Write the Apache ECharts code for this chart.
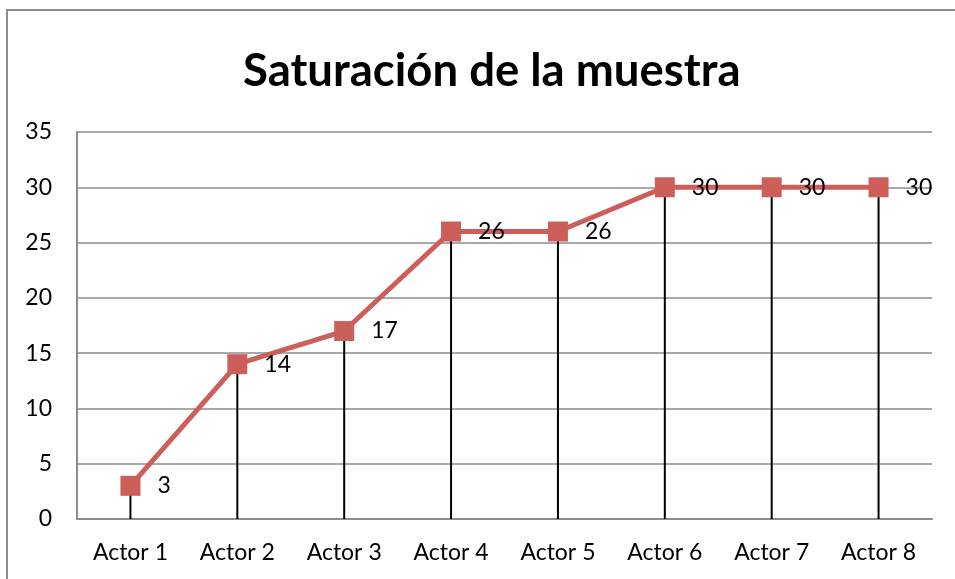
<!DOCTYPE html>
<html>
<head>
<meta charset="utf-8">
<title>Saturación de la muestra</title>
<script src="https://cdn.jsdelivr.net/npm/echarts@6/dist/echarts.min.js"></script>
<style>
  html, body { margin: 0; padding: 0; background: #fff; }
  #chart { width: 955px; height: 579px; }
</style>
</head>
<body>
<div id="chart"></div>
<script>
// data
const categories = ['Actor 1', 'Actor 2', 'Actor 3', 'Actor 4', 'Actor 5', 'Actor 6', 'Actor 7', 'Actor 8'];
const values = [3, 14, 17, 26, 26, 30, 30, 30];
const yTicks = { min: 0, max: 35, interval: 5 };

const font = 'Lato, "Open Sans", sans-serif';
const chart = echarts.init(document.getElementById('chart'));

const option = {
  animation: false,
  backgroundColor: '#fff',
  title: {
    text: 'Saturación de la muestra',
    left: 238,
    top: 43,
    textStyle: { fontFamily: font, fontSize: 45.5, fontWeight: 'bold', color: '#000' }
  },
  graphic: [{
    type: 'rect',
    shape: { x: 7, y: 10, width: 960, height: 590 },
    style: { fill: 'none', stroke: '#8c8c8c', lineWidth: 2 },
    silent: true
  }],
  grid: { left: 77, right: 23, top: 132, bottom: 60 },
  xAxis: {
    type: 'category',
    data: categories,
    axisLine: { lineStyle: { color: '#8c8c8c', width: 2 } },
    axisTick: { show: false },
    axisLabel: { fontFamily: font, fontSize: 23, color: '#000', margin: 22 }
  },
  yAxis: {
    type: 'value',
    min: yTicks.min,
    max: yTicks.max,
    interval: yTicks.interval,
    axisLine: { show: true, lineStyle: { color: '#8c8c8c', width: 2 } },
    axisTick: { show: false },
    splitLine: { lineStyle: { color: '#8c8c8c', width: 1.5 } },
    axisLabel: { fontFamily: font, fontSize: 23, color: '#000', margin: 25, align: 'right' }
  },
  series: [
    {
      // drop lines from each point down to the axis
      type: 'bar',
      data: values,
      barWidth: 2,
      itemStyle: { color: '#000' },
      silent: true,
      z: 1
    },
    {
      type: 'line',
      data: values,
      symbol: 'rect',
      symbolSize: 20,
      lineStyle: { color: '#cd5f5a', width: 5 },
      itemStyle: { color: '#cd5f5a' },
      label: {
        show: true,
        position: 'right',
        distance: 17,
        fontFamily: font,
        fontSize: 23,
        color: '#000'
      },
      z: 2
    }
  ]
};

chart.setOption(option);
window.addEventListener('resize', function () {
  chart.resize();
});
</script>
</body>
</html>
